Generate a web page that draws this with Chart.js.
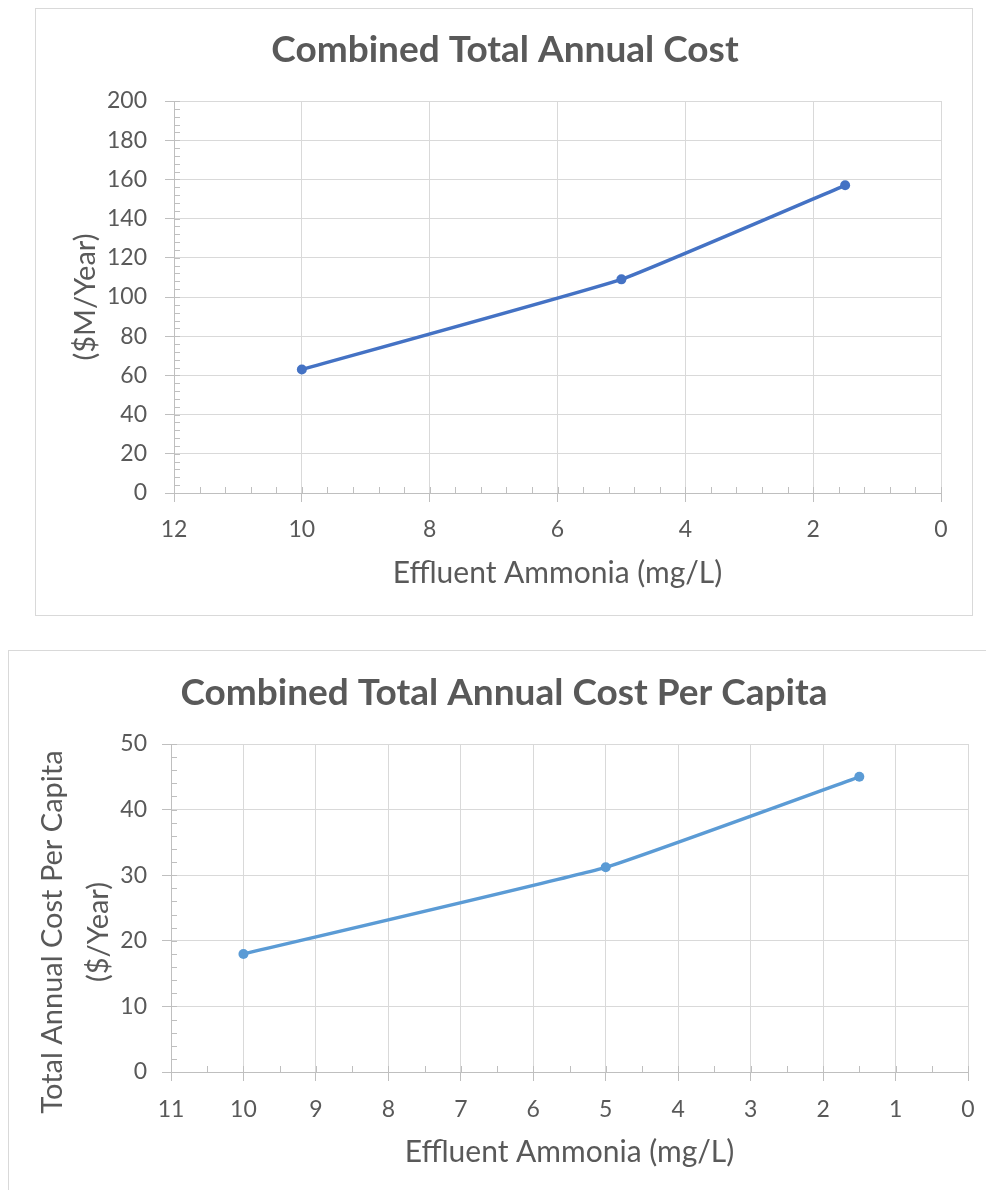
<!DOCTYPE html>
<html lang="en">
<head>
<meta charset="utf-8">
<title>Combined Total Annual Cost</title>
<script src="https://cdn.jsdelivr.net/npm/chart.js@4.4.1/dist/chart.umd.min.js"></script>
<style>
  html, body { margin: 0; padding: 0; background: #ffffff; }
  body { position: relative; width: 986px; height: 1190px; overflow: hidden; }
  .panel { position: absolute; border: 1px solid #d9d9d9; background: #ffffff; }
  .panel canvas { display: block; }
  #costPanel { left: 35px; top: 8px; width: 936px; height: 606px; }
  #capitaPanel { left: 8px; top: 650px; width: 978px; height: 543px; }
</style>
</head>
<body>
<div class="panel" id="costPanel"><canvas id="costChart" width="936" height="606"></canvas></div>
<div class="panel" id="capitaPanel"><canvas id="capitaChart" width="978" height="543"></canvas></div>

<script>
// Effluent ammonia targets (mg/L)
const ammonia = [10, 5, 1.5];
// Combined total annual cost ($M / year)
const annualCost = [63, 109, 157];
// Combined total annual cost per capita ($ / year)
const costPerCapita = [18, 31.2, 45];

// Axis tick labels
const costXTicks = [12, 10, 8, 6, 4, 2, 0];
const costYTicks = [0, 20, 40, 60, 80, 100, 120, 140, 160, 180, 200];
const capitaXTicks = [11, 10, 9, 8, 7, 6, 5, 4, 3, 2, 1, 0];
const capitaYTicks = [0, 10, 20, 30, 40, 50];

const INK = '#595959';
const GRID = '#d9d9d9';
const AXIS = '#bfbfbf';
const FONT = 'Lato, "Open Sans", "DejaVu Sans", sans-serif';

// Small inward tick marks between the labelled ticks
const minorTicks = {
  id: 'minorTicks',
  beforeDatasetsDraw(chart, _args, opts) {
    const { ctx, chartArea: a, scales: { x, y } } = chart;
    ctx.save();
    ctx.strokeStyle = opts.color;
    ctx.lineWidth = 1;
    ctx.beginPath();
    const nx = Math.round((x.max - x.min) / opts.xStep);
    for (let i = 0; i <= nx; i++) {
      const px = Math.round(x.getPixelForValue(x.min + i * opts.xStep)) + 0.5;
      ctx.moveTo(px, a.bottom);
      ctx.lineTo(px, a.bottom - opts.length);
    }
    const ny = Math.round((y.max - y.min) / opts.yStep);
    for (let i = 0; i <= ny; i++) {
      const py = Math.round(y.getPixelForValue(y.min + i * opts.yStep)) + 0.5;
      ctx.moveTo(a.left, py);
      ctx.lineTo(a.left + opts.length, py);
    }
    ctx.stroke();
    ctx.restore();
  }
};

// Two-line rotated caption for the value axis, set slightly below the axis middle
const sideCaption = {
  id: 'sideCaption',
  afterDraw(chart, _args, opts) {
    if (!opts.lines) return;
    const { ctx, chartArea: a } = chart;
    ctx.save();
    ctx.font = `${opts.size}px ${FONT}`;
    ctx.fillStyle = INK;
    ctx.textAlign = 'center';
    ctx.textBaseline = 'middle';
    ctx.translate(a.left - opts.inset, (a.top + a.bottom) / 2 + opts.shift);
    ctx.rotate(-Math.PI / 2);
    opts.lines.forEach((line, i) => ctx.fillText(line, 0, i * opts.gap));
    ctx.restore();
  }
};

function fixedTicks(values) {
  const sorted = [...values].sort((a, b) => a - b);
  return scale => { scale.ticks = sorted.map(v => ({ value: v })); };
}

function buildChart(id, spec) {
  return new Chart(document.getElementById(id), {
    type: 'line',
    data: {
      datasets: [{
        data: spec.x.map((v, i) => ({ x: v, y: spec.y[i] })),
        borderColor: spec.color,
        backgroundColor: spec.color,
        pointBackgroundColor: spec.color,
        borderWidth: 3.5,
        pointRadius: 5,
        pointBorderWidth: 0,
        tension: 0.1,
        fill: false
      }]
    },
    options: {
      responsive: false,
      animation: false,
      events: [],
      layout: { padding: { left: spec.padLeft, right: spec.padRight, top: 0, bottom: 0 } },
      plugins: {
        legend: { display: false },
        tooltip: { enabled: false },
        title: {
          display: true,
          text: spec.title,
          color: INK,
          font: { family: FONT, size: 37, weight: 'bold' },
          padding: spec.titlePad
        },
        minorTicks: { color: AXIS, length: 6, xStep: spec.xMinor, yStep: spec.yMinor },
        sideCaption: spec.sideCaption || {}
      },
      scales: {
        x: {
          type: 'linear',
          reverse: true,
          min: Math.min(...spec.xTicks),
          max: Math.max(...spec.xTicks),
          afterBuildTicks: fixedTicks(spec.xTicks),
          afterFit: s => { s.height = spec.xAxisHeight; },
          ticks: { color: INK, font: { family: FONT, size: 23 }, padding: spec.xTickPad, maxRotation: 0, autoSkip: false },
          grid: { color: GRID, tickColor: AXIS, tickLength: 9 },
          border: { color: AXIS },
          title: {
            display: true,
            text: 'Effluent Ammonia (mg/L)',
            color: INK,
            font: { family: FONT, size: 30 },
            padding: { top: 0, bottom: spec.xTitlePad }
          }
        },
        y: {
          type: 'linear',
          min: Math.min(...spec.yTicks),
          max: Math.max(...spec.yTicks),
          afterBuildTicks: fixedTicks(spec.yTicks),
          afterFit: s => { s.width = spec.yAxisWidth; },
          ticks: { color: INK, font: { family: FONT, size: 23 }, padding: spec.yTickPad, autoSkip: false },
          grid: { color: GRID, tickColor: AXIS, tickLength: 9 },
          border: { color: AXIS },
          title: {
            display: !!spec.yTitle,
            text: spec.yTitle || '',
            color: INK,
            font: { family: FONT, size: 29 },
            padding: { top: spec.yTitlePad || 0, bottom: 0 }
          }
        }
      }
    },
    plugins: [minorTicks, sideCaption]
  });
}

buildChart('costChart', {
  title: 'Combined Total Annual Cost',
  yTitle: '($M/Year)',
  x: ammonia, y: annualCost, color: '#4472c4',
  xTicks: costXTicks, yTicks: costYTicks, xMinor: 0.4, yMinor: 4,
  padLeft: 33, padRight: 31,
  yAxisWidth: 105, xAxisHeight: 122,
  titlePad: { top: 18.8, bottom: 28.8 },
  xTickPad: 14, xTitlePad: 24, yTickPad: 18, yTitlePad: -0.4
});

buildChart('capitaChart', {
  title: 'Combined Total Annual Cost Per Capita',
  sideCaption: { lines: ['Total Annual Cost Per Capita', '($/Year)'], size: 29, gap: 46, inset: 118, shift: 24 },
  x: ammonia, y: costPerCapita, color: '#5b9bd5',
  xTicks: capitaXTicks, yTicks: capitaYTicks, xMinor: 0.5, yMinor: 2,
  padLeft: 31, padRight: 19,
  yAxisWidth: 131, xAxisHeight: 122,
  titlePad: { top: 19.8, bottom: 28.8 },
  xTickPad: 15, xTitlePad: 24, yTickPad: 15
});
</script>
</body>
</html>
